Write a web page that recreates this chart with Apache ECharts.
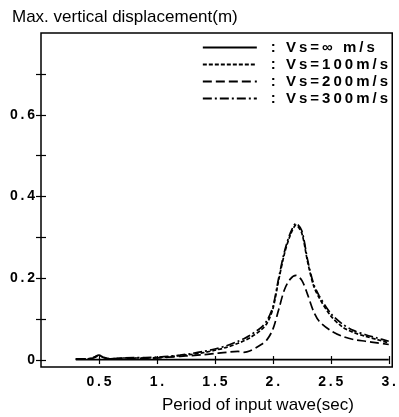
<!DOCTYPE html>
<html><head><meta charset="utf-8">
<script src="https://cdn.jsdelivr.net/npm/echarts@6/dist/echarts.min.js"></script>
<style>html,body{margin:0;padding:0;background:#fff}#c{width:399px;height:417px}</style>
</head><body><div id="c"></div>
<script>
var periods = [0.3,0.4,0.45,0.5,0.55,0.6,0.7,0.8,0.9,1.0,1.1,1.2,1.3,1.4,1.5,1.6,1.7,1.75,1.8,1.9,1.95,2.0,2.05,2.1,2.15,2.2,2.25,2.3,2.35,2.4,2.5,2.6,2.7,2.8,2.9,3.0];
var vsInf = [0.001,0.001,0.001,0.001,0.001,0.001,0.001,0.001,0.001,0.001,0.001,0.001,0.001,0.001,0.001,0.001,0.001,0.001,0.001,0.001,0.001,0.001,0.001,0.001,0.001,0.001,0.001,0.001,0.001,0.001,0.001,0.001,0.001,0.001,0.001,0.001];
var vs100 = [0.003,0.003,0.006,0.011,0.006,0.003,0.005,0.005,0.005,0.006,0.008,0.011,0.014,0.018,0.024,0.031,0.041,0.047,0.054,0.074,0.09,0.125,0.195,0.26,0.305,0.33,0.31,0.24,0.183,0.152,0.108,0.081,0.067,0.058,0.05,0.042];
var vs200 = [0.002,0.002,0.005,0.01,0.005,0.002,0.004,0.004,0.004,0.005,0.007,0.009,0.011,0.013,0.016,0.019,0.021,0.019,0.022,0.038,0.05,0.075,0.123,0.172,0.198,0.207,0.195,0.16,0.12,0.095,0.072,0.058,0.05,0.046,0.042,0.038];
var vs300 = [0.003,0.003,0.006,0.012,0.006,0.003,0.005,0.006,0.006,0.007,0.009,0.012,0.016,0.021,0.027,0.035,0.046,0.052,0.06,0.08,0.097,0.13,0.2,0.265,0.31,0.334,0.316,0.245,0.188,0.157,0.114,0.088,0.072,0.062,0.054,0.046];
var seriesNames = ['Vs=\u221E m/s','Vs=100m/s','Vs=200m/s','Vs=300m/s'];
var xTickValues = [0.5,1,1.5,2,2.5,3];
var xTickLabels = ['0.5','1.','1.5','2.','2.5','3.'];
var yTickValues = [0,0.2,0.4,0.6];
var yTickLabels = ['0','0.2','0.4','0.6'];
var yMinorTicks = [0,0.1,0.2,0.3,0.4,0.5,0.6,0.7];

function spaced(s){ return s.split('').join('\u2009'); }
function pairs(ys){ return periods.map(function(p,i){return [p, ys[i]];}); }

var chart = echarts.init(document.getElementById('c'), null, {renderer:'canvas'});
var labFont = {color:'#000', fontFamily:'Liberation Sans, Arial, sans-serif', fontWeight:'bold', fontSize:14};
var dashes = ['solid',[4,2],[9,4],[9,3,2,3]];
var data = [vsInf, vs100, vs200, vs300];
chart.setOption({
  animation:false,
  backgroundColor:'#fff',
  title:[
    {text:'Max. vertical displacement(m)', left:7, top:4, textStyle:{fontFamily:'Liberation Sans, Arial, sans-serif', fontWeight:'normal', fontSize:17, color:'#000'}},
    {text:'Period of input wave(sec)', left:157, top:392, textStyle:{fontFamily:'Liberation Sans, Arial, sans-serif', fontWeight:'normal', fontSize:17, color:'#000'}}
  ],
  grid:{left:41, top:33, right:6, bottom:50, show:true, borderColor:'#000', borderWidth:1.5, containLabel:false},
  legend:{
    orient:'vertical', right:6, top:35, itemWidth:54, itemHeight:12, itemGap:2,
    data:seriesNames, selectedMode:false,
    itemStyle:{opacity:0},
    textStyle:{color:'#000', fontFamily:'Liberation Sans, Arial, sans-serif', fontWeight:'bold', fontSize:15, padding:[0,0,0,9]},
    formatter:function(n){ return spaced(': ' + n); }
  },
  xAxis:[{
    type:'value', min:0, max:3.03, position:'bottom',
    axisLine:{show:false}, splitLine:{show:false},
    axisTick:{inside:true, length:4, customValues:xTickValues, lineStyle:{color:'#000', width:1.2}},
    axisLabel:Object.assign({customValues:xTickValues, margin:8, formatter:function(v){var i=xTickValues.indexOf(v); return i>=0?spaced(xTickLabels[i]):'';}}, labFont)
  },{
    type:'value', min:0, max:3.03, position:'top',
    axisLine:{show:false}, splitLine:{show:false}, axisLabel:{show:false},
    axisTick:{inside:true, length:4, customValues:xTickValues, lineStyle:{color:'#000', width:1.2}}
  }],
  yAxis:[{
    type:'value', min:-0.017, max:0.8, position:'left',
    axisLine:{show:false}, splitLine:{show:false},
    axisTick:{inside:true, length:5, customValues:yMinorTicks, lineStyle:{color:'#000', width:1.2}},
    axisLabel:Object.assign({customValues:yTickValues, margin:6, formatter:function(v){var i=yTickValues.indexOf(v); return i>=0?spaced(yTickLabels[i]):'';}}, labFont)
  },{
    type:'value', min:-0.017, max:0.8, position:'right',
    axisLine:{show:false}, splitLine:{show:false}, axisLabel:{show:false},
    axisTick:{inside:true, length:5, customValues:yMinorTicks, lineStyle:{color:'#000', width:1.2}}
  }],
  series: seriesNames.map(function(n,i){
    return {name:n, type:'line', data:pairs(data[i]), smooth:0.3, symbol:'none', xAxisIndex:0, yAxisIndex:0,
      lineStyle:{color:'#000', width:1.7, type:dashes[i]}, itemStyle:{color:'#000'}};
  })
});
</script></body></html>
